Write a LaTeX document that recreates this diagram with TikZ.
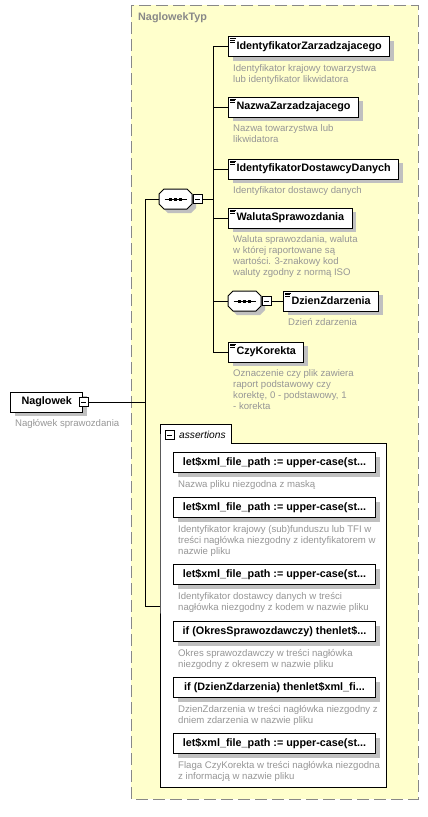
\documentclass[tikz,border=0pt]{standalone}
\usepackage{fontspec}
\setmainfont{Liberation Sans}
\usetikzlibrary{shadows}

\definecolor{typfill}{RGB}{255,255,204}
\definecolor{typline}{RGB}{136,136,136}
\definecolor{desc}{RGB}{150,150,150}
\definecolor{shade}{RGB}{192,192,192}

% three short lines in the corner of an element box
\newcommand\elemicon[1]{%
  \draw[line width=0.6pt] ([shift={(2,2.5)}]#1.north west) -- ++(6,0)
    ([shift={(2,4.2)}]#1.north west) -- ++(4.5,0)
    ([shift={(2,5.9)}]#1.north west) -- ++(4.5,0);}

% sequence compositor drawn over an empty node
\newcommand\seqmark[1]{%
  \pic[fill=shade] at ([shift={(4,4)}]#1.west) {octa};
  \pic[draw, fill=white, line width=1pt] at (#1.west) {octa};
  \draw[line width=0.8pt] (#1.center) ++(-11,0) -- ++(22,0);
  \foreach \dx in {-5,0,5}{
    \fill ([shift={(\dx-1.5,-1.5)}]#1.center) rectangle ++(3,3);
  }}

\begin{document}
\begin{tikzpicture}[x=1pt, y=-1pt,
    elem/.style={draw, fill=white, line width=1pt, minimum height=20pt, inner xsep=8pt, inner ysep=0pt,
      anchor=west, font=\fontsize{10.8}{12}\selectfont\bfseries,
      drop shadow={shadow xshift=4pt, shadow yshift=-4pt, fill=shade, opacity=1}},
    asrt/.style={elem, minimum width=202pt, anchor=north west},
    note/.style={anchor=north west, inner sep=0pt, align=left, text=desc, font=\fontsize{9.6}{11}\selectfont},
    minus/.style={draw, fill=white, line width=0.8pt, minimum size=9pt, inner sep=0pt,
      path picture={\draw ([xshift=2pt]path picture bounding box.west) -- ([xshift=-2pt]path picture bounding box.east);}},
    seq/.style={minimum width=33pt, minimum height=20pt, inner sep=0pt, outer sep=0pt, anchor=west},
    octa/.pic={\path[pic actions] (0,-5) -- (5,-10) -- (28,-10) -- (33,-5) -- (33,5) -- (28,10) -- (5,10) -- (0,5) -- cycle;},
    conn/.style={line width=1pt}
  ]
  \useasboundingbox (0,0) rectangle (428,817);

  % the type box
  \draw[typline, fill=typfill, dash pattern=on 12pt off 5pt, line width=1pt] (131,5) rectangle (418,799);
  \node[anchor=west, inner sep=0pt, text=typline, font=\fontsize{10.8}{12}\selectfont\bfseries] (typname) at (138,18) {NaglowekTyp};

  % root element
  \node[elem, inner xsep=11pt] (naglowek) at (10,402) {Naglowek};
  \node[minus] (naglowekm) at (naglowek.east) {};
  \node[note] (naglowekd) at ([shift={(5,7)}]naglowek.south west) {Nagłówek sprawozdania};

  % sequence
  \node[seq] (seqa) at (159,199) {};
  \seqmark{seqa}
  \node[minus, anchor=west] (seqam) at ([xshift=1pt]seqa.east) {};
  \coordinate (busa) at (213,199);
  \draw[conn] (seqam) -- (busa);

  \node[elem] (idzarz) at (228,46.5) {IdentyfikatorZarzadzajacego};
  \node[elem] (nazwa) at (228,107) {NazwaZarzadzajacego};
  \node[elem] (iddost) at (228,169) {IdentyfikatorDostawcyDanych};
  \node[elem] (waluta) at (228,218) {WalutaSprawozdania};
  \node[seq] (seqb) at (228,301) {};
  \seqmark{seqb}
  \node[minus, anchor=west] (seqbm) at ([xshift=1pt]seqb.east) {};
  \node[elem] (dzien) at (283,301) {DzienZdarzenia};
  \node[elem] (korekta) at (228,352) {CzyKorekta};

  \foreach \e in {idzarz,nazwa,iddost,waluta,seqb,korekta}{
    \draw[conn] (busa) |- (\e.west);
  }
  \draw[conn] (seqbm) -- (dzien);
  \foreach \e in {idzarz,nazwa,iddost,waluta,dzien,korekta}{
    \elemicon{\e}
  }

  \node[note] (idzarzd) at ([shift={(5,7)}]idzarz.south west) {Identyfikator krajowy towarzystwa\\lub identyfikator likwidatora};
  \node[note] (nazwad) at ([shift={(5,7)}]nazwa.south west) {Nazwa towarzystwa lub\\likwidatora};
  \node[note] (iddostd) at ([shift={(5,7)}]iddost.south west) {Identyfikator dostawcy danych};
  \node[note] (walutad) at ([shift={(5,7)}]waluta.south west) {Waluta sprawozdania, waluta\\w której raportowane są\\wartości. 3-znakowy kod\\waluty zgodny z normą ISO};
  \node[note] (dziend) at ([shift={(5,7)}]dzien.south west) {Dzień zdarzenia};
  \node[note] (korektad) at ([shift={(5,7)}]korekta.south west) {Oznaczenie czy plik zawiera\\raport podstawowy czy\\korektę, 0 - podstawowy, 1\\- korekta};

  % assertions
  \draw[line width=1pt, fill=white] (160,443) -- (160,424) -- (231,424) -- (231,443) -- (386,443) -- (386,787) -- (160,787) -- cycle;
  \node[minus] (asrtm) at (169.5,435) {};
  \node[anchor=west, inner sep=0pt, font=\fontsize{10.2}{12}\selectfont\itshape] (asrtname) at (179,435) {assertions};
  \coordinate (asrtw) at (160,606);

  \node[asrt] (as1) at (173,452) {let\$xml\_file\_path := upper-case(st...};
  \node[asrt] (as2) at (173,497) {let\$xml\_file\_path := upper-case(st...};
  \node[asrt] (as3) at (173,564) {let\$xml\_file\_path := upper-case(st...};
  \node[asrt] (as4) at (173,621) {if (OkresSprawozdawczy) thenlet\$...};
  \node[asrt] (as5) at (173,677) {if (DzienZdarzenia) thenlet\$xml\_fi...};
  \node[asrt] (as6) at (173,733) {let\$xml\_file\_path := upper-case(st...};

  \node[note] (as1d) at ([shift={(5,7)}]as1.south west) {Nazwa pliku niezgodna z maską};
  \node[note] (as2d) at ([shift={(5,7)}]as2.south west) {Identyfikator krajowy (sub)funduszu lub TFI w\\treści nagłówka niezgodny z identyfikatorem w\\nazwie pliku};
  \node[note] (as3d) at ([shift={(5,7)}]as3.south west) {Identyfikator dostawcy danych w treści\\nagłówka niezgodny z kodem w nazwie pliku};
  \node[note] (as4d) at ([shift={(5,7)}]as4.south west) {Okres sprawozdawczy w treści nagłówka\\niezgodny z okresem w nazwie pliku};
  \node[note] (as5d) at ([shift={(5,7)}]as5.south west) {DzienZdarzenia w treści nagłówka niezgodny z\\dniem zdarzenia w nazwie pliku};
  \node[note] (as6d) at ([shift={(5,7)}]as6.south west) {Flaga CzyKorekta w treści nagłówka niezgodna\\z informacją w nazwie pliku};

  % root connectors
  \coordinate (busr) at (145,402);
  \draw[conn] (naglowekm) -- (busr);
  \draw[conn] (busr) |- (seqa.west);
  \draw[conn] (busr) |- (asrtw);
\end{tikzpicture}
\end{document}
